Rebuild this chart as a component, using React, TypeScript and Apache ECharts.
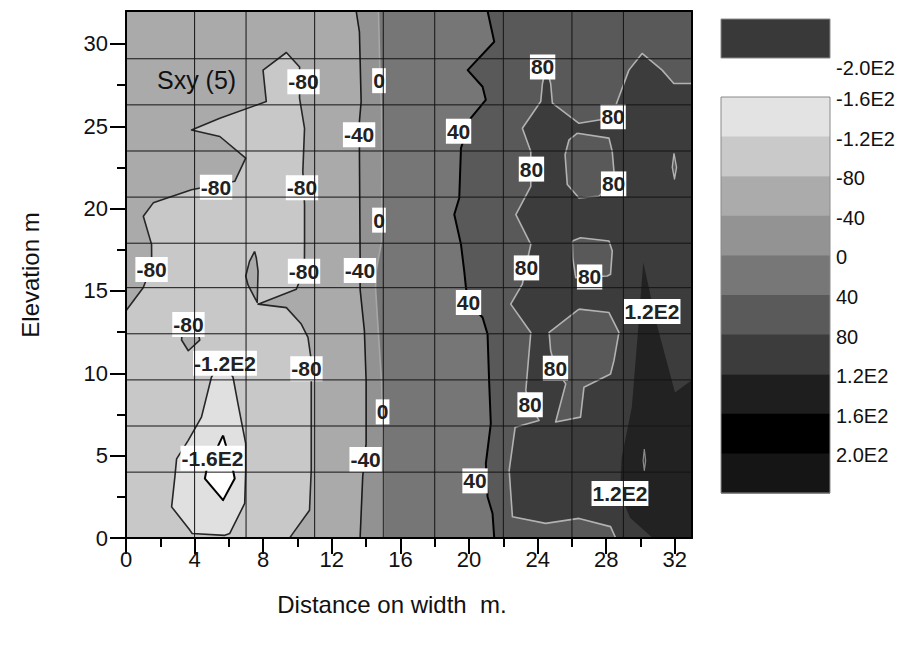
import React, { useEffect, useRef } from "react";
import * as echarts from "echarts";

// ---------- axes ----------
const X_MAX = 33;
const Y_MAX = 32;
const xTicks = [0, 4, 8, 12, 16, 20, 24, 28, 32];
const xMinorTicks = [2, 6, 10, 14, 18, 22, 26, 30];
const yTicks = [0, 5, 10, 15, 20, 25, 30];
const yMinorTicks = [2.5, 7.5, 12.5, 17.5, 22.5, 27.5];

// measurement grid lines
const gridXs = [4, 7, 11, 15, 18, 22, 26, 29];
const gridYs = [4.0, 6.8, 9.6, 12.4, 15.2, 17.9, 20.7, 23.5, 26.3, 29.1];

// ---------- bands ----------
const bandColor: Record<string, string> = {
  lt160: "#ffffff",
  m160: "#e0e0e0",
  m120: "#c8c8c8",
  m80: "#aaaaaa",
  m40: "#929292",
  p0: "#767676",
  p40: "#595959",
  p80: "#3c3c3c",
  p120: "#222222",
};

// ---------- contour geometry (data coords) ----------
const plotArea = [[0,0],[0,Y_MAX],[X_MAX,Y_MAX],[X_MAX,0]];
const regionMinus120to80 = [[0,0],[0,13.8],[1.0,15.2],[1.5,16.5],[1.49,17.83],[1.01,19.54],[1.59,20.35],[3.82,21.15],[6.34,21.66],[6.98,23.07],[5.47,24.38],[3.82,24.78],[5.47,25.49],[8.18,26.5],[7.99,28.41],[9.35,29.48],[10.12,28.6],[10.12,26.7],[10.41,24.88],[10.31,22.26],[10.41,20.25],[10.41,17.83],[10.4,16.3],[9.93,15.1],[7.7,14.2],[9.35,13.99],[10.22,12.99],[10.61,12.18],[10.8,10.8],[10.8,9.36],[10.8,4.11],[10.7,1.69],[9.73,0.28],[9.54,0]];
const regionMinus160to120 = [[5.6,10.9],[4.98,9.76],[4.4,7.34],[3.63,5.93],[2.95,4.8],[2.85,3.71],[2.66,1.89],[3.72,0.48],[3.86,0.27],[5.76,0.16],[6.05,0.28],[6.34,0.89],[6.92,2.1],[6.98,4.11],[6.98,5.73],[6.53,8.15],[6.24,9.76]];
const regionBelow160 = [[5.66,6.23],[4.69,4.11],[4.6,3.61],[5.66,2.3],[6.34,3.61],[6.24,4.11]];
const islandDiamond = [[7.5,17.4],[7.6,17.0],[7.7,16.2],[7.65,14.3],[7.12,15.35],[6.98,15.9],[7.2,16.8]];
const islandTriangle = [[3.3,12.9],[4.1,12.9],[4.3,12.02],[3.63,11.37],[3.24,12.02]];
const minus40Line = [[13.42,32],[13.61,30.73],[13.71,26.5],[13.61,25.29],[13.61,23.47],[13.65,17.02],[13.65,15.1],[13.9,12.58],[14.0,9.56],[14.0,5.73],[13.8,3.71],[13.65,0]];
const zeroLine = [[14.72,32],[14.8,28.5],[14.9,26],[14.93,22],[14.9,18],[14.6,16.3],[14.55,15.2],[14.65,13.5],[14.9,9.5],[15.0,5],[15.0,0]];
const plus40Line = [[21.08,32],[21.47,30.13],[19.92,28.41],[20.79,27.4],[20.98,26.6],[20.1,25.49],[19.53,23.67],[19.43,20.65],[19.14,19.64],[19.53,17.83],[19.72,16.21],[19.82,15.2],[19.97,14.3],[20.79,13.39],[21.08,12.38],[21.17,9.56],[21.27,6.94],[20.98,4.52],[21.08,2.5],[21.37,1.49],[21.47,0]];
const region80 = [[28.55,0],[28.25,0.69],[26.41,1.19],[24.47,0.89],[22.53,1.29],[22.34,4.11],[22.69,6.73],[24.08,7.14],[23.56,8.09],[23.31,8.95],[23.6,12.48],[22.43,14.2],[23.11,15.41],[23.3,16.4],[23.6,17.83],[22.73,19.64],[23.6,21.35],[23.6,22.4],[23.6,23.47],[23.11,24.88],[24.18,26.5],[24.28,27.6],[24.5,28.6],[24.76,27.6],[24.86,26.4],[26.41,25.18],[28.3,25.5],[28.64,26.5],[29.32,28.41],[30.09,29.42],[31.26,28.41],[31.94,27.6],[33,27.6],[33,0]];
const island80a = [[26.32,24.58],[28.16,24.28],[28.35,23.47],[28.45,22.26],[28.2,21.4],[27.57,20.75],[26.41,20.65],[25.73,21.46],[25.6,23.27],[25.83,24.18]];
const island80b = [[26.02,18.03],[26.5,18.23],[28.16,18.03],[28.35,17.42],[28.25,16.01],[28.06,15.91],[27.03,15.85],[26.22,15.81],[26.05,17.0]];
const island80c = [[26.41,13.9],[28.16,13.69],[28.74,12.48],[28.45,10.77],[28.25,9.96],[26.7,9.15],[26.5,7.34],[25.05,7.04],[25.64,9.36],[25.04,10.31],[24.76,11.37],[24.67,12.48]];
const island80d = [[31.95,23.35],[32.1,22.5],[31.98,21.8],[31.85,22.5]];
const region120 = [[30.16,16.75],[30.94,13.0],[32.01,8.84],[33,9.6],[33,0],[30.7,0],[29.39,1.23],[28.8,2.7],[28.9,4.88],[29.49,7.93],[29.87,12.8]];
const lens120 = [[30.22,5.4],[30.3,4.7],[30.22,4.1],[30.15,4.7]];

// contour labels: [x, y, text]
const contourLabels: [number, number, string][] = [
  [10.35,27.7,"-80"],[14.75,27.77,"0"],[13.59,24.48,"-40"],[24.29,28.6,"80"],[19.39,24.7,"40"],
  [28.4,25.58,"80"],[23.64,22.4,"80"],[28.43,21.5,"80"],[5.25,21.3,"-80"],[10.26,21.26,"-80"],
  [14.75,19.3,"0"],[1.49,16.3,"-80"],[10.38,16.2,"-80"],[13.64,16.24,"-40"],[23.35,16.4,"80"],
  [27.03,15.85,"80"],[19.97,14.3,"40"],[30.67,13.75,"1.2E2"],[3.64,12.96,"-80"],[5.77,10.61,"-1.2E2"],
  [10.52,10.28,"-80"],[25.04,10.31,"80"],[23.56,8.09,"80"],[14.96,7.66,"0"],[5.04,4.84,"-1.6E2"],
  [13.97,4.77,"-40"],[20.35,3.47,"40"],[28.8,2.7,"1.2E2"],
];

// legend
const legendTopColor = "#393939";
const legendTopLabel = "-2.0E2";
const legendColors = ["#e3e3e3","#c9c9c9","#ababab","#939393","#777777","#5a5a5a","#3c3c3c","#1e1e1e","#000000","#151515"];
const legendLabels = ["-1.6E2","-1.2E2","-80","-40","0","40","80","1.2E2","1.6E2","2.0E2"];

const toRight = (line: number[][]) => [...line, [X_MAX, 0], [X_MAX, Y_MAX]];

const fills = [
  { pts: plotArea, band: "m80" },
  { pts: regionMinus120to80, band: "m120" },
  { pts: regionMinus160to120, band: "m160" },
  { pts: regionBelow160, band: "lt160" },
  { pts: islandDiamond, band: "m80" },
  { pts: islandTriangle, band: "m80" },
  { pts: toRight(minus40Line), band: "m40" },
  { pts: toRight(zeroLine), band: "p0" },
  { pts: toRight(plus40Line), band: "p40" },
  { pts: region80, band: "p80" },
  { pts: island80a, band: "p40" },
  { pts: island80b, band: "p40" },
  { pts: island80c, band: "p40" },
  { pts: island80d, band: "p40" },
  { pts: region120, band: "p120" },
  { pts: lens120, band: "p80" },
];

const DARK = "#262626";
const LIGHT = "#b2b2b2";
const lines = [
  { pts: regionMinus120to80.slice(1), closed: false, color: DARK, width: 1.6 },
  { pts: regionMinus160to120, closed: true, color: DARK, width: 1.6 },
  { pts: regionBelow160, closed: true, color: "#000", width: 2 },
  { pts: islandDiamond, closed: true, color: DARK, width: 1.6 },
  { pts: islandTriangle, closed: true, color: DARK, width: 1.6 },
  { pts: minus40Line, closed: false, color: "#1a1a1a", width: 1.6 },
  { pts: zeroLine, closed: false, color: "#a6a6a6", width: 1.6 },
  { pts: plus40Line, closed: false, color: "#000", width: 2 },
  { pts: region80.slice(0, -1), closed: false, color: LIGHT, width: 1.6 },
  { pts: island80a, closed: true, color: LIGHT, width: 1.6 },
  { pts: island80b, closed: true, color: LIGHT, width: 1.6 },
  { pts: island80c, closed: true, color: LIGHT, width: 1.6 },
  { pts: island80d, closed: true, color: LIGHT, width: 1.4 },
  { pts: lens120, closed: true, color: "#8a8a8a", width: 1.2 },
];

const FONT = '"Liberation Sans", Arial, Helvetica, sans-serif';

export default function App() {
  const ref = useRef<HTMLDivElement>(null);
  useEffect(() => {
    const chart = echarts.init(ref.current!, null, { renderer: "svg" });
    const axisLineStyle = { color: "#000", width: 2 };
    const baseX = { type: "value", min: 0, max: X_MAX, splitLine: { show: false }, z: 10 };
    const baseY = { type: "value", min: 0, max: Y_MAX, splitLine: { show: false }, z: 10 };

    const legendX = 721, legendW = 109, boxesTop = 97, boxH = 39.6;
    const legendGraphics: any[] = [
      { type: "rect", shape: { x: legendX, y: 19, width: legendW, height: 39 }, style: { fill: legendTopColor, stroke: "#8a8a8a", lineWidth: 1 } },
      { type: "text", x: 836, y: 68, style: { text: legendTopLabel, font: `20px ${FONT}`, fill: "#111", verticalAlign: "middle" } },
    ];
    legendColors.forEach((c, i) => {
      legendGraphics.push({ type: "rect", shape: { x: legendX, y: boxesTop + i * boxH, width: legendW, height: boxH + 0.5 }, style: { fill: c } });
      legendGraphics.push({ type: "text", x: 836, y: boxesTop + i * boxH + 2, style: { text: legendLabels[i], font: `20px ${FONT}`, fill: "#111", verticalAlign: "middle" } });
    });
    legendGraphics.push({ type: "rect", shape: { x: legendX, y: boxesTop, width: legendW, height: boxH * legendColors.length }, style: { fill: "none", stroke: "#8a8a8a", lineWidth: 1 } });

    const option: any = {
      animation: false,
      backgroundColor: "#fff",
      grid: { left: 126, top: 11, width: 566, height: 527, outerBoundsMode: "none", containLabel: false },
      xAxis: [
        { ...baseX, position: "bottom",
          axisLine: { show: true, onZero: false, lineStyle: axisLineStyle },
          axisTick: { show: true, customValues: xTicks, length: 16, lineStyle: axisLineStyle },
          axisLabel: { customValues: xTicks, fontSize: 22, color: "#111", margin: 10, fontFamily: FONT } },
        { ...baseX, position: "bottom",
          axisLine: { show: false },
          axisTick: { show: true, customValues: xMinorTicks, length: 9, lineStyle: axisLineStyle },
          axisLabel: { show: false } },
        { ...baseX, position: "top",
          axisLine: { show: true, onZero: false, lineStyle: axisLineStyle },
          axisTick: { show: false }, axisLabel: { show: false } },
      ],
      yAxis: [
        { ...baseY, position: "left",
          axisLine: { show: true, onZero: false, lineStyle: axisLineStyle },
          axisTick: { show: true, customValues: yTicks, length: 16, lineStyle: axisLineStyle },
          axisLabel: { customValues: yTicks, fontSize: 22, color: "#111", margin: 18, fontFamily: FONT } },
        { ...baseY, position: "left",
          axisLine: { show: false },
          axisTick: { show: true, customValues: yMinorTicks, length: 9, lineStyle: axisLineStyle },
          axisLabel: { show: false } },
        { ...baseY, position: "right",
          axisLine: { show: true, onZero: false, lineStyle: axisLineStyle },
          axisTick: { show: false }, axisLabel: { show: false } },
      ],
      series: [
        {
          type: "custom", name: "fills", z: 1, silent: true,
          data: fills.map((f) => f.pts[0]),
          renderItem: (params: any, api: any) => {
            const f = fills[params.dataIndex];
            return { type: "polygon", shape: { points: f.pts.map((p) => api.coord(p)) }, style: { fill: bandColor[f.band], stroke: null } };
          },
        },
        {
          type: "custom", name: "contours", z: 2, silent: true,
          data: lines.map((l) => l.pts[0]),
          renderItem: (params: any, api: any) => {
            const l = lines[params.dataIndex];
            const pts = l.pts.map((p) => api.coord(p));
            if (l.closed) pts.push(pts[0]);
            return { type: "polyline", shape: { points: pts }, style: { fill: null, stroke: l.color, lineWidth: l.width, lineJoin: "round" } };
          },
        },
        {
          type: "custom", name: "labels", z: 3, silent: true,
          data: contourLabels.map((c) => [c[0], c[1]]),
          renderItem: (params: any, api: any) => {
            const c = contourLabels[params.dataIndex];
            const p = api.coord([c[0], c[1]]);
            return {
              type: "text", x: p[0], y: p[1],
              style: { text: c[2], fill: "#222", font: `bold 21px ${FONT}`, align: "center", verticalAlign: "middle", backgroundColor: "#fff", padding: [3, 1, 1, 1] },
            };
          },
        },
        {
          type: "custom", name: "gridV", z: 4, silent: true,
          data: gridXs.map((x) => [x, 0]),
          renderItem: (params: any, api: any) => {
            const x = gridXs[params.dataIndex];
            const a = api.coord([x, 0]);
            const b = api.coord([x, Y_MAX]);
            return { type: "line", shape: { x1: a[0], y1: a[1], x2: b[0], y2: b[1] }, style: { stroke: "#141414", lineWidth: 1 } };
          },
        },
        {
          type: "custom", name: "gridH", z: 4, silent: true,
          data: gridYs.map((y) => [0, y]),
          renderItem: (params: any, api: any) => {
            const y = gridYs[params.dataIndex];
            const a = api.coord([0, y]);
            const b = api.coord([X_MAX, y]);
            return { type: "line", shape: { x1: a[0], y1: a[1], x2: b[0], y2: b[1] }, style: { stroke: "#141414", lineWidth: 1 } };
          },
        },
      ],
      graphic: [
        { type: "text", x: 157, y: 80, z: 20, style: { text: "Sxy (5)", font: `25px ${FONT}`, fill: "#111", verticalAlign: "middle" } },
        { type: "text", x: 392, y: 604, style: { text: "Distance on width  m.", font: `24px ${FONT}`, fill: "#111", align: "center", verticalAlign: "middle" } },
        { type: "text", x: 30, y: 275, rotation: Math.PI / 2, style: { text: "Elevation m", font: `24px ${FONT}`, fill: "#111", align: "center", verticalAlign: "middle" } },
        ...legendGraphics,
      ],
    };
    chart.setOption(option);
    return () => chart.dispose();
  }, []);
  return <div ref={ref} style={{ position: "fixed", left: 0, top: 0, width: 906, height: 646, background: "#fff" }} />;
}
